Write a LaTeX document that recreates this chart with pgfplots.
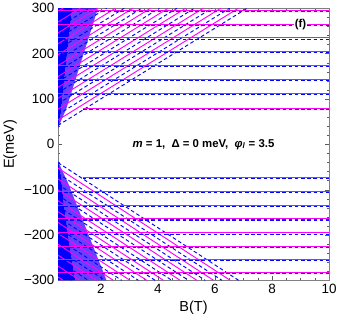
\documentclass[border=0pt]{standalone}
\usepackage{pgfplots}
\pgfplotsset{compat=1.18}
\usepackage{pgfplotstable}
\usepackage{fontspec}
\setmainfont{Liberation Sans}
\definecolor{mag}{RGB}{255,0,255}
\definecolor{blu}{RGB}{0,0,255}
\pgfplotstableread{
x y
0.5 53.5
6.821 300
nan nan
0.5 77.5
6.205 300
nan nan
0.5 101.5
5.590 300
nan nan
0.5 125.5
4.974 300
nan nan
0.5 149.5
4.359 300
nan nan
0.5 173.5
3.744 300
nan nan
0.5 197.5
3.128 300
nan nan
0.5 221.5
2.513 300
nan nan
0.5 245.5
1.897 300
nan nan
0.5 269.5
1.282 300
nan nan
0.5 293.5
0.667 300
nan nan
0.5 -52.5
6.537 -300
nan nan
0.5 -76.5
5.951 -300
nan nan
0.5 -100.5
5.366 -300
nan nan
0.5 -124.5
4.780 -300
nan nan
0.5 -148.5
4.195 -300
nan nan
0.5 -172.5
3.610 -300
nan nan
0.5 -196.5
3.024 -300
nan nan
0.5 -220.5
2.439 -300
nan nan
0.5 -244.5
1.854 -300
nan nan
0.5 -268.5
1.268 -300
nan nan
0.5 -292.5
0.683 -300
}\magdiag
\pgfplotstableread{
x y
0.5 41.5
7.128 300
nan nan
0.5 65.5
6.513 300
nan nan
0.5 89.5
5.897 300
nan nan
0.5 113.5
5.282 300
nan nan
0.5 137.5
4.667 300
nan nan
0.5 161.5
4.051 300
nan nan
0.5 185.5
3.436 300
nan nan
0.5 209.5
2.821 300
nan nan
0.5 233.5
2.205 300
nan nan
0.5 257.5
1.590 300
nan nan
0.5 281.5
0.974 300
nan nan
0.5 -40.5
6.829 -300
nan nan
0.5 -64.5
6.244 -300
nan nan
0.5 -88.5
5.659 -300
nan nan
0.5 -112.5
5.073 -300
nan nan
0.5 -136.5
4.488 -300
nan nan
0.5 -160.5
3.902 -300
nan nan
0.5 -184.5
3.317 -300
nan nan
0.5 -208.5
2.732 -300
nan nan
0.5 -232.5
2.146 -300
nan nan
0.5 -256.5
1.561 -300
nan nan
0.5 -280.5
0.976 -300
}\bludiag
\pgfplotstableread{
x y
1.38 78.5
10 78.5
nan nan
0.5 112.5
10 112.5
nan nan
0.5 142.5
10 142.5
nan nan
0.5 173.5
10 173.5
nan nan
0.5 204.5
10 204.5
nan nan
0.5 234.5
10 234.5
nan nan
0.5 264.5
10 264.5
nan nan
0.5 294.5
10 294.5
nan nan
1.37 -73.5
10 -73.5
nan nan
0.5 -104.5
10 -104.5
nan nan
0.5 -134.5
10 -134.5
nan nan
0.5 -164.5
10 -164.5
nan nan
0.5 -195.5
10 -195.5
nan nan
0.5 -225.5
10 -225.5
nan nan
0.5 -254.5
10 -254.5
nan nan
0.5 -283.5
10 -283.5
}\magplat
\pgfplotstableread{
x y
1.38 76
10 76
nan nan
0.5 110
10 110
nan nan
0.5 140
10 140
nan nan
0.5 171
10 171
nan nan
0.5 202
10 202
nan nan
0.5 232
10 232
nan nan
0.5 262
10 262
nan nan
0.5 292
10 292
nan nan
1.37 -76
10 -76
nan nan
0.5 -107
10 -107
nan nan
0.5 -137
10 -137
nan nan
0.5 -167
10 -167
nan nan
0.5 -198
10 -198
nan nan
0.5 -228
10 -228
nan nan
0.5 -257
10 -257
nan nan
0.5 -286
10 -286
}\bluplat
\begin{document}
\begin{tikzpicture}
\begin{axis}[
  width=261bp, height=262bp, scale only axis,
  xmin=0.5, xmax=10, ymin=-300, ymax=300,
  xtick={2,4,6,8,10}, xticklabels={2,4,6,8,10},
  ytick={-300,-200,-100,0,100,200,300},
  yticklabels={−300,−200,−100,0,100,200,300},
  minor x tick num=3, minor y tick num=4,
  tick align=inside,
  axis line style={gray}, tick style={gray!70!black},
  major tick length=4bp, minor tick length=2.2bp,
  tick label style={font=\fontsize{13}{13}\selectfont},
  label style={font=\fontsize{14}{14}\selectfont},
  xlabel={B(T)}, ylabel={E(meV)},
  unbounded coords=jump,
  clip=true,
]
% dense low-field region
\addplot[fill=blu!80!mag, fill opacity=0.75, draw=none] coordinates {(0.5,36) (0.6,70) (0.7,130) (0.85,220) (1.0,300) (1.9,300) (1.25,170) (0.8,80)} -- cycle;
\addplot[fill=blu!80!mag, fill opacity=0.75, draw=none] coordinates {(0.5,-38) (0.6,-70) (0.7,-130) (0.9,-220) (1.1,-300) (2.2,-300) (1.45,-180) (0.85,-85)} -- cycle;
% solid blue low-field region
\addplot[fill=blu, draw=none] coordinates {(0.5,36) (0.5,300) (1.0,300) (0.85,220) (0.7,130) (0.6,70)} -- cycle;
\addplot[fill=blu, draw=none] coordinates {(0.5,-38) (0.5,-300) (1.1,-300) (0.9,-220) (0.7,-130) (0.6,-70)} -- cycle;
\addplot[mag, line width=0.9bp] table {\magdiag};
\addplot[blu, line width=0.9bp, dash pattern=on 3.5bp off 2.5bp] table {\bludiag};
\addplot[mag, line width=1bp] table {\magplat};
\addplot[blu, line width=1bp, dash pattern=on 3.5bp off 2.5bp] table {\bluplat};
\node[font=\fontsize{11}{11}\selectfont\bfseries] at (axis cs:5.6,0) {\textit{m} = 1,\ \ Δ = 0 meV,\ \ \textit{φ}\textsubscript{\textit{l}} = 3.5};
\node[font=\fontsize{11}{11}\selectfont\bfseries, fill=white, inner sep=1pt] at (axis cs:9.0,265) {(f)};
\end{axis}
\end{tikzpicture}
\end{document}
